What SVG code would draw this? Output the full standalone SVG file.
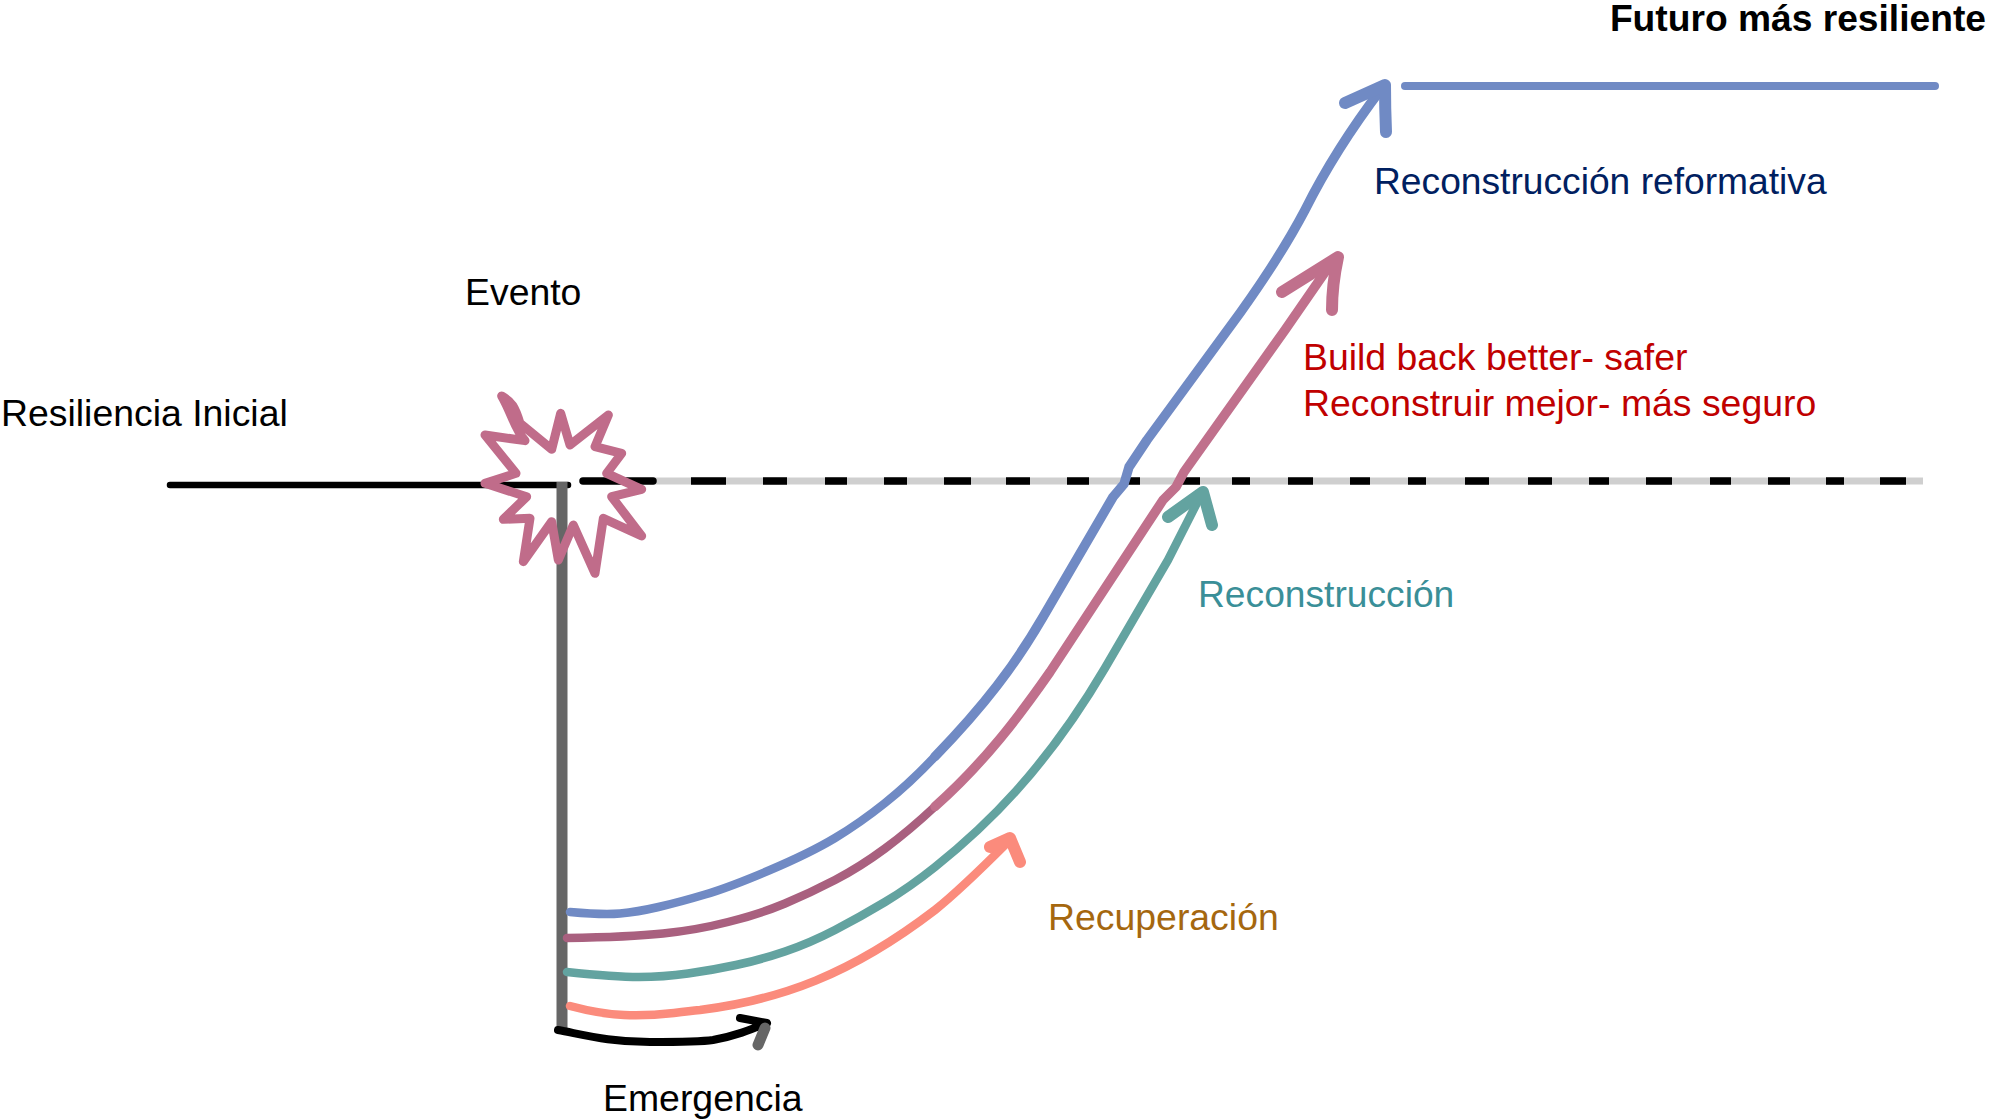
<svg xmlns="http://www.w3.org/2000/svg" width="1990" height="1120" viewBox="0 0 1990 1120">
<style>
text{font-family:"Liberation Sans",Arial,sans-serif;font-size:37.4px}
.fit{font-size:37.2px}
path{fill:none;stroke-linecap:round;stroke-linejoin:round}
.butt{stroke-linecap:butt}
.b{stroke:#708ac4}.r{stroke:#c0708c}.rd{stroke:#a9607f}.t{stroke:#64a3a0}.s{stroke:#fb8b7c}
</style>
<defs><filter id="soft" filterUnits="userSpaceOnUse" x="0" y="0" width="1990" height="1120"><feGaussianBlur stdDeviation="0.7"/></filter></defs>
<rect width="1990" height="1120" fill="#fff"/>
<g id="connectors" filter="url(#soft)">
<path class="butt" d="M650 481H1923" stroke="#cfcfcf" stroke-width="7"/>
<path d="M170 485H568" stroke="#000" stroke-width="6.5"/>
<path d="M583 481H653" stroke="#000" stroke-width="7.5"/>
<path class="butt" stroke="#000" stroke-width="7.5" d="M691 481H726M763 481H787M825 481H847M884 481H907M944 481H971M1006 481H1030M1067 481H1089M1125 481H1140M1178 481H1200M1232 481H1250M1288 481H1313M1350 481H1370M1408 481H1426M1465 481H1489M1528 481H1552M1589 481H1609M1646 481H1672M1710 481H1731M1768 481H1790M1826 481H1844M1880 481H1906"/>
<path class="butt" d="M562 482V1030" stroke="#666" stroke-width="11"/>
<path class="b" stroke-width="8.5" d="M570 912Q603 915 620 913.5Q637 912 658.5 907Q680 902 705 894.5Q730 887 770 870Q810 853 835 838Q860 823 885 803Q910 783 935 756.5"/>
<path class="b" stroke-width="9.5" d="M935 756.5C985 705 1015 665 1043 617L1113 497L1124 484L1129 467L1147 440L1240 313C1265 278 1285 248 1305 210C1325 170 1350 130 1382 88"/>
<path class="b" stroke-width="12" d="M1345 103L1385 85Q1385 108 1386 132"/>
<path class="b" stroke-width="8" d="M1405 86H1935"/>
<path class="rd" stroke-width="8.5" d="M567 938Q630 937 663 933.5Q697 930 728 922Q760 914 785 903.5Q810 893 835 880Q860 867 885 848.5Q910 830 935 806.5"/>
<path class="r" stroke-width="9.5" d="M935 806.5C985 762 1020 715 1050 672L1163 500L1176 487L1184 472L1285 330L1332 262"/>
<path class="r" stroke-width="12" d="M1282 292L1338 257Q1332 285 1332 310"/>
<path class="t" stroke-width="8.5" d="M567 972Q615 977 639 977Q663 977 688 973.5Q713 970 736 965Q760 960 785 951.5Q810 943 835 930Q860 917 885 902Q910 887 935 867C985 827 1045 770 1105 668L1168 560L1200 497"/>
<path class="t" stroke-width="12" d="M1168 517L1203 492L1212 525"/>
<path class="s" stroke-width="8.5" d="M570 1006Q600 1014 624 1015Q647 1016 674 1013Q690 1011 700 1010C780 1000 850 975 935 910Q960 890 1007 843"/>
<path class="s" stroke-width="12" d="M990 847L1010 838L1020 862"/>
<path stroke="#000" stroke-width="8" d="M558 1030C585 1035 610 1042 650 1042C680 1042 700 1042 713 1040C735 1036 750 1030 767 1023L740 1018"/>
<path stroke="#666" stroke-width="11" d="M765 1028L758 1045"/>
</g>
<g id="evento">
<path filter="url(#soft)" transform="translate(440 370) scale(.33333)" stroke="#c06c8a" stroke-width="27" d="M185 78C215 95 225 110 240 160L335 238L362 130L390 225L505 135L465 230L545 250L500 310L605 358L515 380L605 498L490 445L465 610L400 465L355 570L335 455L250 575L270 445L190 448L260 380L135 340L228 310L135 195L255 212C225 180 215 130 185 78Z"/>
<text x="465" y="305">Evento</text>
</g>
<g id="resiliencia-inicial"><text x="1" y="426">Resiliencia Inicial</text></g>
<g id="futuro"><text class="fit" x="1986" y="31" font-weight="700" text-anchor="end">Futuro más resiliente</text></g>
<g id="reconstruccion-reformativa"><text class="fit" x="1374" y="194" fill="#002060">Reconstrucción reformativa</text></g>
<g id="build-back"><text x="1303" y="370" fill="#c00000">Build back better- safer</text><text x="1303" y="416" fill="#c00000">Reconstruir mejor- más seguro</text></g>
<g id="reconstruccion"><text class="fit" x="1198" y="607" fill="#3a8f98">Reconstrucción</text></g>
<g id="recuperacion"><text x="1048" y="930" fill="#a5670f">Recuperación</text></g>
<g id="emergencia"><text x="603" y="1111">Emergencia</text></g>
</svg>
